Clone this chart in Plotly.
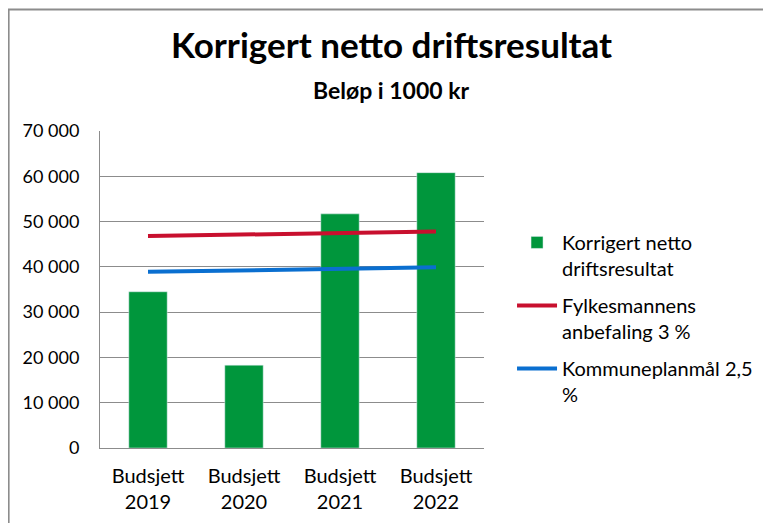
import plotly.graph_objects as go

categories = ["Budsjett<br>2019", "Budsjett<br>2020", "Budsjett<br>2021", "Budsjett<br>2022"]
netto_driftsresultat = [34500, 18300, 51700, 60800]
fylkesmannen_3 = [46800, 47100, 47500, 47800]
kommuneplan_2_5 = [38900, 39200, 39500, 39900]

FONT = "Lato"
GREY = "#8c8c8c"

fig = go.Figure()
fig.add_trace(go.Bar(
    x=categories, y=netto_driftsresultat,
    name="Korrigert netto<br>driftsresultat",
    marker_color="#00963c", legendgroup="a",
))
fig.add_trace(go.Scatter(
    x=categories, y=fylkesmannen_3, mode="lines",
    name="Fylkesmannens<br>anbefaling 3 %",
    line=dict(color="#c8102e", width=4), legendgroup="b",
))
fig.add_trace(go.Scatter(
    x=categories, y=kommuneplan_2_5, mode="lines",
    name="Kommuneplanmål 2,5<br>%",
    line=dict(color="#0a6fd0", width=4), legendgroup="c",
))

# the page adds an 8px body margin, margins are shifted to compensate
fig.update_layout(
    width=771, height=515,
    margin=dict(l=92, r=295, t=123, b=75),
    paper_bgcolor="white", plot_bgcolor="white",
    font=dict(family=FONT, size=18, color="black"),
    bargap=0.6,
    showlegend=True,
    legend=dict(x=1.073, y=0.71, xanchor="left", yanchor="top",
                font=dict(size=20), tracegroupgap=8, itemwidth=40,
                valign="top"),
    annotations=[
        dict(text="<b>Korrigert netto driftsresultat</b>", xref="paper", yref="paper",
             x=0.76, y=1.273, xanchor="center", yanchor="middle", showarrow=False,
             font=dict(size=35)),
        dict(text="<b>Beløp i 1000 kr</b>", xref="paper", yref="paper",
             x=0.76, y=1.129, xanchor="center", yanchor="middle", showarrow=False,
             font=dict(size=23)),
    ],
    xaxis=dict(showline=True, linecolor=GREY, linewidth=1, automargin=False,
               ticks="", ticklabelstandoff=10, tickfont=dict(size=20)),
    yaxis=dict(range=[0, 70000], dtick=10000, tickformat=",d", automargin=False,
               showgrid=True, gridcolor=GREY, gridwidth=1,
               showline=True, linecolor=GREY, linewidth=1,
               ticks="", ticklabelstandoff=16,
               tickfont=dict(size=18)),
    separators=", ",
    shapes=[dict(type="rect", xref="paper", yref="paper",
                 x0=-0.238, x1=2.0, y0=-0.5, y1=1.383,
                 line=dict(color=GREY, width=2))],
)

fig.write_html("out.html")
